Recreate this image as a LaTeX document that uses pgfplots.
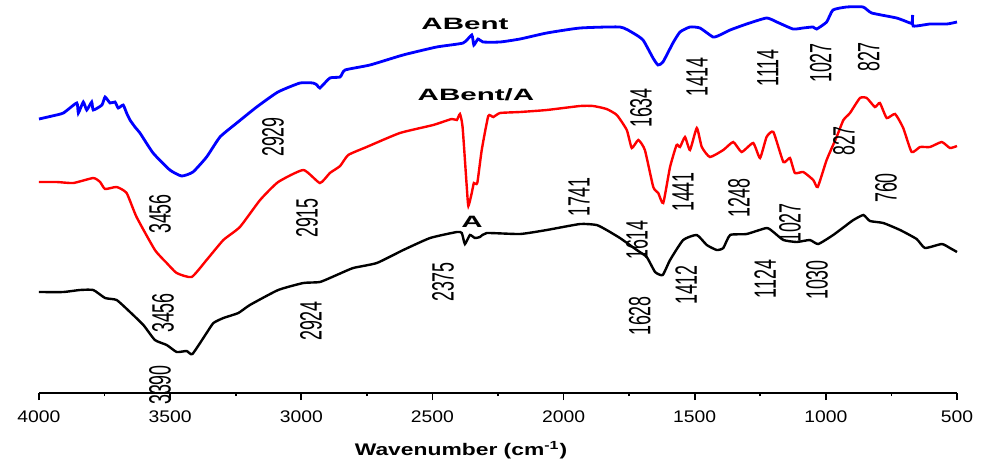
\documentclass[border=0pt]{standalone}
\usepackage{fontspec}
\setmainfont{Liberation Sans}
\newfontfamily\tickfont[FakeStretch=1.15]{Liberation Sans}
\newfontfamily\labfont[FakeStretch=1.8]{Liberation Sans Bold}
\newfontfamily\xlabfont[FakeStretch=1.36]{Liberation Sans Bold}
\newfontfamily\annfont[FakeStretch=0.58]{Liberation Sans}
\usepackage{pgfplots}
\pgfplotsset{compat=1.18}
\tikzset{
  annot/.style={font=\annfont\fontsize{15.4}{16}\selectfont, rotate=90, inner sep=0pt},
  clab/.style={font=\labfont\fontsize{8.2}{10}\selectfont, inner sep=0pt},
}
\begin{document}
\begin{tikzpicture}
\useasboundingbox (-19.5pt,-37pt) rectangle (474.5pt,196.5pt);
\begin{axis}[
  scale only axis, width=459pt, height=196.5pt,
  x dir=reverse, xmin=500, xmax=4000, ymin=7, ymax=400,
  axis x line*=bottom, axis y line=none,
  xtick={500,1000,...,4000}, minor x tick num=1,
  tick align=outside, major tick length=3.5pt, minor tick length=1.6pt,
  every tick/.style={black, line width=0.9pt},
  axis line style={line width=1pt},
  /pgf/number format/1000 sep={},
  /pgf/number format/assume math mode=true,
  xticklabel style={font=\tickfont\fontsize{8.4}{10}\selectfont, yshift=-2pt},
  clip=false,
]
% ABent (blue)
\addplot[blue, line width=1.4pt, smooth, tension=0.3] coordinates {
(4000,281)(3950,284)(3907,287)(3856,297)(3850,287)(3831,298)(3818,290)(3799,298)(3793,290)
(3760,295)(3748,303)(3729,297)(3710,298)(3698,292)(3679,295)(3666,287)(3653,280)(3634,273)
(3615,267)(3565,247)(3501,230)(3456,224)(3413,228)(3361,243)(3310,263)(3246,277)(3170,293)
(3089,308)(3005,317)(2955,317)(2940,315)(2929,312)(2891,322)(2852,323)(2833,330)(2738,335)
(2612,345)(2484,353)(2383,357)(2350,365)(2342,355)(2326,361)(2307,358)(2242,358)(2166,361)
(2064,367)(1937,372)(1785,373)(1735,367)(1697,360)(1659,342)(1640,335)(1621,338)(1583,357)
(1556,368)(1518,373)(1480,372)(1430,363)(1404,365)(1365,370)(1302,376)(1226,382)(1187,378)
(1125,371)(1087,372)(1049,373)(1035,371)(997,378)(973,390)(921,393)(858,393)(825,387)
(730,382)(679,377)(671,377)(669,385)(667,374)(603,376)(539,376)(500,378)
};
% ABent/A (red)
\addplot[red, line width=1.2pt, smooth, tension=0.3] coordinates {
(4000,218)(3932,218)(3869,217)(3793,222)(3767,218)(3748,211)(3704,213)(3666,207)(3628,183)
(3558,150)(3513,137)(3475,127)(3418,123)(3361,140)(3297,160)(3234,173)(3157,200)(3088,218)
(2992,230)(2929,217)(2891,227)(2852,234)(2821,245)(2751,253)(2624,267)(2497,275)(2427,281)
(2407,280)(2395,286)(2385,273)(2369,213)(2363,194)(2350,207)(2342,217)(2329,217)(2312,250)
(2287,284)(2268,283)(2242,287)(2166,288)(2064,290)(1937,294)(1887,294)(1836,291)(1797,285)
(1759,270)(1740,252)(1715,260)(1690,250)(1658,213)(1639,207)(1620,197)(1594,233)(1569,255)
(1556,253)(1537,263)(1518,250)(1492,272)(1473,253)(1442,243)(1391,250)(1353,258)(1321,248)
(1277,257)(1251,242)(1226,263)(1200,268)(1162,238)(1137,242)(1118,227)(1086,228)(1048,220)
(1031,213)(997,240)(959,263)(933,280)(908,287)(870,302)(844,302)(813,293)(794,297)(768,282)
(736,286)(705,272)(673,248)(641,253)(603,253)(558,258)(527,252)(500,254)
};
% A (black)
\addplot[black, line width=1.2pt, smooth, tension=0.3] coordinates {
(4000,108)(3907,108)(3844,110)(3793,110)(3748,102)(3704,100)(3653,88)(3602,75)(3558,60)
(3513,55)(3475,48)(3437,49)(3415,46)(3361,67)(3335,77)(3297,82)(3240,87)(3196,95)(3088,110)
(2992,117)(2929,118)(2865,125)(2802,132)(2712,137)(2611,150)(2509,162)(2407,168)(2388,167)
(2376,156)(2357,165)(2338,162)(2319,163)(2293,167)(2166,166)(2064,170)(1937,176)(1874,175)
(1836,170)(1785,162)(1721,150)(1683,143)(1651,128)(1622,125)(1594,140)(1544,160)(1492,165)
(1454,155)(1416,150)(1391,152)(1365,165)(1302,166)(1226,172)(1200,168)(1162,160)(1111,158)
(1061,160)(1029,156)(972,165)(921,175)(895,180)(857,185)(832,179)(781,177)(717,170)(654,161)
(622,152)(558,156)(527,152)(500,148)
};
% curve labels
\node[clab] at (axis cs:2376,376) {ABent};
\node[clab] at (axis cs:2334,305) {ABent/A};
\node[clab] at (axis cs:2349,178) {A};
% peak annotations
\node[annot] at (axis cs:3539,186) {3456};
\node[annot] at (axis cs:3108,263) {2929};
\node[annot] at (axis cs:2978,182) {2915};
\node[annot] at (axis cs:3527,87) {3456};
\node[annot] at (axis cs:2963,79) {2924};
\node[annot] at (axis cs:2460,118) {2375};
\node[annot] at (axis cs:3539,15) {3390};
\node[annot] at (axis cs:1705,292) {1634};
\node[annot] at (axis cs:1491,323) {1414};
\node[annot] at (axis cs:1221,332) {1114};
\node[annot] at (axis cs:1019,337) {1027};
\node[annot] at (axis cs:836,343) {827};
\node[annot] at (axis cs:931,259) {827};
\node[annot] at (axis cs:1941,203) {1741};
\node[annot] at (axis cs:1545,208) {1441};
\node[annot] at (axis cs:1331,202) {1248};
\node[annot] at (axis cs:771,212) {760};
\node[annot] at (axis cs:1137,177) {1027};
\node[annot] at (axis cs:1720,160) {1614};
\node[annot] at (axis cs:1709,84) {1628};
\node[annot] at (axis cs:1533,115) {1412};
\node[annot] at (axis cs:1232,121) {1124};
\node[annot] at (axis cs:1034,120) {1030};
% x label
\node[font=\xlabfont\fontsize{8.4}{10}\selectfont, inner sep=0pt] at (axis cs:2391,-50) {Wavenumber (cm\textsuperscript{-1})};
\end{axis}
\end{tikzpicture}
\end{document}
